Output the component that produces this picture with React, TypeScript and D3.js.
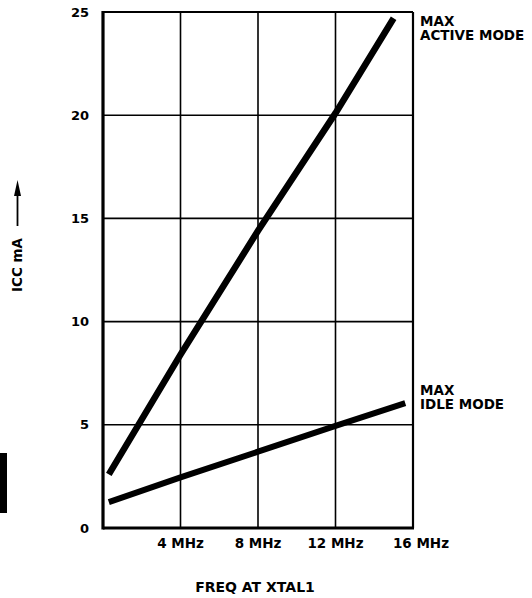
import React, { useEffect, useRef } from "react";
import * as d3 from "d3";

// frequency in MHz, current in mA
const activeFreq = [0.3, 4, 8, 12, 15];
const activeIcc = [2.6, 8.4, 14.4, 20.1, 24.7];
const idleFreq = [0.3, 4, 8, 12, 15.6];
const idleIcc = [1.25, 2.45, 3.7, 4.95, 6.05];

const xTicks = [4, 8, 12, 16];
const xTickLabels = ["4 MHz", "8 MHz", "12 MHz", "16 MHz"];
const yTicks = [0, 5, 10, 15, 20, 25];

const FONT = "'DejaVu Sans', Arial, sans-serif";

const App = (): JSX.Element => {
  const ref = useRef<SVGSVGElement>(null);

  useEffect(() => {
    const svg = d3.select(ref.current);
    svg.selectAll("*").remove();

    const x = d3.scaleLinear().domain([0, 16]).range([103, 413]);
    const y = d3.scaleLinear().domain([0, 25]).range([528, 12]);

    const g = svg.append("g");

    // grid
    g.selectAll(".hgrid")
      .data(yTicks.filter((d) => d > 0 && d < 25))
      .enter()
      .append("line")
      .attr("x1", x(0))
      .attr("x2", x(16))
      .attr("y1", (d) => y(d))
      .attr("y2", (d) => y(d))
      .attr("stroke", "#000")
      .attr("stroke-width", 1.6);
    g.selectAll(".vgrid")
      .data(xTicks.filter((d) => d < 16))
      .enter()
      .append("line")
      .attr("x1", (d) => x(d))
      .attr("x2", (d) => x(d))
      .attr("y1", y(0))
      .attr("y2", y(25))
      .attr("stroke", "#000")
      .attr("stroke-width", 1.6);

    // frame
    g.append("line").attr("x1", x(0)).attr("x2", x(16)).attr("y1", y(25)).attr("y2", y(25))
      .attr("stroke", "#000").attr("stroke-width", 2.2);
    g.append("line").attr("x1", x(16)).attr("x2", x(16)).attr("y1", y(25)).attr("y2", y(0))
      .attr("stroke", "#000").attr("stroke-width", 2.2);
    g.append("line").attr("x1", x(0)).attr("x2", x(0)).attr("y1", y(25) - 1).attr("y2", y(0) + 1.5)
      .attr("stroke", "#000").attr("stroke-width", 3.2);
    g.append("line").attr("x1", x(0)).attr("x2", x(16) + 1).attr("y1", y(0)).attr("y2", y(0))
      .attr("stroke", "#000").attr("stroke-width", 3.2);

    // curves
    const line = d3
      .line<[number, number]>()
      .x((d) => x(d[0]))
      .y((d) => y(d[1]));
    g.append("path")
      .datum(activeFreq.map((f, i) => [f, activeIcc[i]] as [number, number]))
      .attr("d", line)
      .attr("fill", "none")
      .attr("stroke", "#000")
      .attr("stroke-width", 6.5);
    g.append("path")
      .datum(idleFreq.map((f, i) => [f, idleIcc[i]] as [number, number]))
      .attr("d", line)
      .attr("fill", "none")
      .attr("stroke", "#000")
      .attr("stroke-width", 6);

    const txt = (sel: d3.Selection<SVGTextElement, unknown, null, undefined>) =>
      sel.attr("font-family", FONT).attr("font-weight", "bold").attr("font-size", 13).attr("fill", "#000");

    // y tick labels
    yTicks.forEach((t) => {
      txt(g.append("text"))
        .attr("x", 89)
        .attr("y", y(t))
        .attr("dy", "0.36em")
        .attr("text-anchor", "end")
        .text(String(t));
    });

    // x tick labels
    xTicks.forEach((t, i) => {
      txt(g.append("text"))
        .attr("x", x(t) + (t === 16 ? 8 : 0))
        .attr("y", 548)
        .attr("text-anchor", "middle")
        .attr("font-size", 13.5)
        .text(xTickLabels[i]);
    });

    // axis titles
    txt(g.append("text"))
      .attr("x", 255)
      .attr("y", 592)
      .attr("text-anchor", "middle")
      .attr("font-size", 14)
      .text("FREQ AT XTAL1");

    txt(g.append("text"))
      .attr("transform", "translate(22,292) rotate(-90)")
      .attr("text-anchor", "start")
      .attr("font-size", 13.5)
      .text("ICC mA");

    // arrow next to y title
    g.append("line")
      .attr("x1", 17.5)
      .attr("x2", 17.5)
      .attr("y1", 226)
      .attr("y2", 196)
      .attr("stroke", "#000")
      .attr("stroke-width", 1.8);
    g.append("path")
      .attr("d", "M17.5,180 L14,196 L21,196 Z")
      .attr("fill", "#000");

    // curve labels
    const labels = [
      { lines: ["MAX", "ACTIVE MODE"], y0: 26 },
      { lines: ["MAX", "IDLE MODE"], y0: 395 },
    ];
    labels.forEach((l) => {
      l.lines.forEach((s, i) => {
        txt(g.append("text"))
          .attr("x", 420)
          .attr("y", l.y0 + i * 13.5)
          .attr("font-size", 13.5)
          .text(s);
      });
    });

    // page tab at left edge
    g.append("rect").attr("x", 0).attr("y", 453).attr("width", 7).attr("height", 60).attr("fill", "#000");
  }, []);

  return (
    <svg
      ref={ref}
      width={532}
      height={598}
      style={{ position: "absolute", left: 0, top: 0, background: "#fff" }}
    />
  );
};

export default App;
